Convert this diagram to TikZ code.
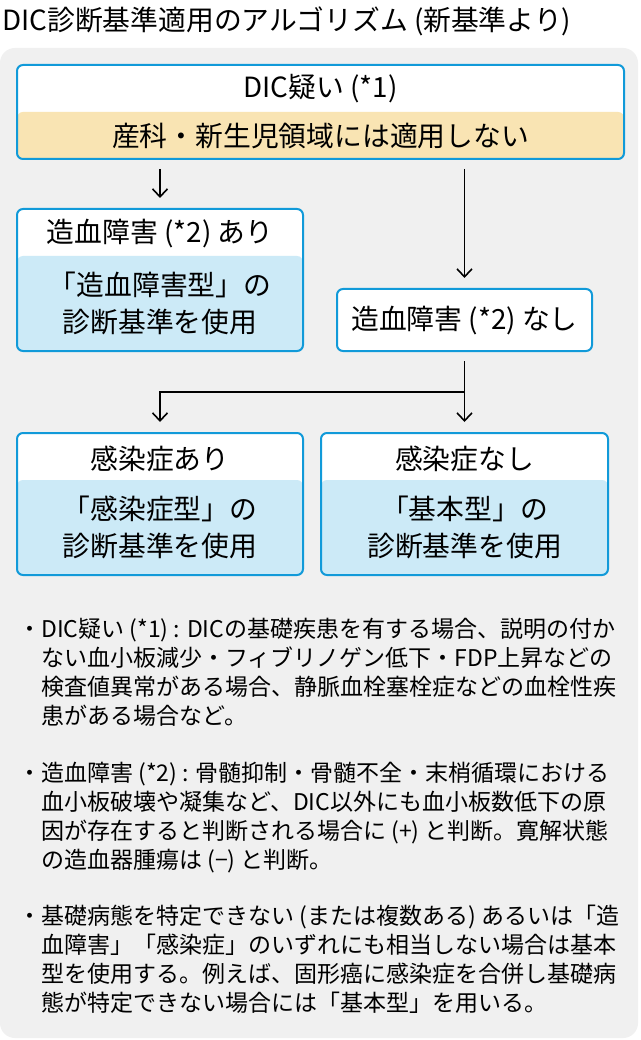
\documentclass[tikz,border=0pt]{standalone}
\usepackage{fontspec}
\setmainfont{Noto Sans CJK JP}
\usetikzlibrary{arrows.meta}
\definecolor{panelgray}{HTML}{F0F0F0}
\definecolor{boxblue}{HTML}{119AD9}
\definecolor{tanfill}{HTML}{F9E4B3}
\definecolor{lightblue}{HTML}{CCEAF7}
\tikzset{
  frame/.style={draw=boxblue, line width=2pt, rounded corners=6pt, fill=white, inner sep=0pt},
  twotone/.style 2 args={frame, path picture={\fill[#1] ([yshift=-#2]path picture bounding box.north west) rectangle (path picture bounding box.south east);}},
  boxtxt/.style={font=\fontsize{27.8}{37}\selectfont, inner sep=0pt, align=center},
  bodytxt/.style={font=\fontsize{23}{29}\selectfont, inner sep=0pt, align=left, anchor=north west},
  titletxt/.style={font=\fontsize{27.8}{33}\selectfont, inner sep=0pt, anchor=base west},
  conn/.style={line width=1.6pt, draw=black},
  arr/.style={conn, -{Straight Barb[length=8pt,width=15pt]}},
}
\begin{document}
\begin{tikzpicture}[x=1pt,y=-1pt]
\useasboundingbox (0,0) rectangle (640,1040);
\fill[white] (0,0) rectangle (640,1040);
\fill[panelgray, rounded corners=15pt] (0,48) rectangle (638,1038);
\node[titletxt] (title) at (2,31) {DIC診断基準適用のアルゴリズム (新基準より)};
% boxes
\node[twotone={tanfill}{47pt}, minimum width=607pt, minimum height=94pt] (top) at (320.5,112) {};
\node[twotone={lightblue}{47pt}, minimum width=286pt, minimum height=142pt] (b2) at (160,280) {};
\node[frame, minimum width=255pt, minimum height=62pt] (b3) at (464.5,320) {};
\node[twotone={lightblue}{47pt}, minimum width=286pt, minimum height=142pt] (b4) at (160,504) {};
\node[twotone={lightblue}{47pt}, minimum width=287pt, minimum height=142pt] (b5) at (464.5,504) {};
% box texts
\node[boxtxt] (t1) at (320.5,89) {DIC疑い (*1)};
\node[boxtxt] (t1b) at (320.5,136) {産科・新生児領域には適用しない};
\node[boxtxt] (t2) at (160,234) {造血障害 (*2) あり};
\node[boxtxt] (t2b) at (160,303.5) {「造血障害型」の\\診断基準を使用};
\node[boxtxt] (t3) at (464.5,321) {造血障害 (*2) なし};
\node[boxtxt] (t4) at (160,459) {感染症あり};
\node[boxtxt] (t4b) at (160,527) {「感染症型」の\\診断基準を使用};
\node[boxtxt] (t5) at (464.5,459) {感染症なし};
\node[boxtxt] (t5b) at (464.5,527) {「基本型」の\\診断基準を使用};
% connectors
\draw[arr, shorten <=9pt, shorten >=10pt] (top.south -| b2.north) -- (b2.north);
\draw[arr, shorten <=9pt, shorten >=10pt] (top.south -| b3.north) -- (b3.north);
\coordinate (j) at (464.5,392);
\draw[conn, shorten <=9pt] (b3.south) -- (j);
\draw[arr, shorten >=10pt] (j) -| (b4.north);
\draw[arr, shorten >=10pt] (j) -- (b5.north);
% notes
\node[bodytxt] (d1) at (18,617) {\rule{0pt}{20pt}・};
\node[bodytxt] (p1) at (41,617) {\rule{0pt}{20pt}DIC疑い (*1) : DICの基礎疾患を有する場合、説明の付か\\ない血小板減少・フィブリノゲン低下・FDP上昇などの\\検査値異常がある場合、静脈血栓塞栓症などの血栓性疾\\患がある場合など。};
\node[bodytxt] (d2) at (18,761) {\rule{0pt}{20pt}・};
\node[bodytxt] (p2) at (41,761) {\rule{0pt}{20pt}造血障害 (*2) : 骨髄抑制・骨髄不全・末梢循環における\\血小板破壊や凝集など、DIC以外にも血小板数低下の原\\因が存在すると判断される場合に (+) と判断。寛解状態\\の造血器腫瘍は (−) と判断。};
\node[bodytxt] (d3) at (18,904) {\rule{0pt}{20pt}・};
\node[bodytxt] (p3) at (41,904) {\rule{0pt}{20pt}基礎病態を特定できない (または複数ある) あるいは「造\\血障害」「感染症」のいずれにも相当しない場合は基本\\型を使用する。例えば、固形癌に感染症を合併し基礎病\\態が特定できない場合には「基本型」を用いる。};
\end{tikzpicture}
\end{document}
